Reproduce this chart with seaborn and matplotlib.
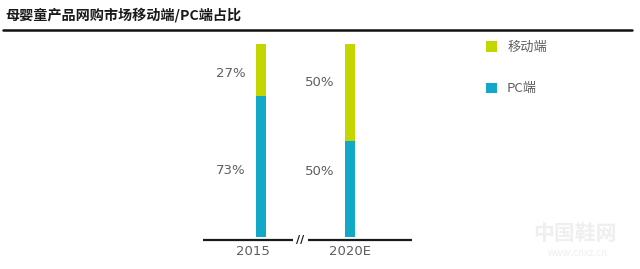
import matplotlib
matplotlib.use("Agg")
import matplotlib.pyplot as plt
import seaborn as sns
import pandas as pd
from matplotlib.patches import Patch

# ---- data ----
years = ["2015", "2020E"]
mobile_share = [27, 50]
pc_share = [73, 50]
series_names = ["移动端", "PC端"]
title = "母婴童产品网购市场移动端/PC端占比"

GREEN = "#c4d600"
BLUE = "#12a8c8"
GRAY = "#5e5e5e"
NUMFONT = ["Liberation Sans Narrow", "DejaVu Sans"]

sns.set_theme(style="white")
plt.rcParams["font.family"] = ["Noto Sans CJK SC", "DejaVu Sans"]

W, H = 640, 269
fig = plt.figure(figsize=(W / 100, H / 100), dpi=100)

def px_rect(x0, y_top, x1, y_bot):
    return [x0 / W, 1 - y_bot / H, (x1 - x0) / W, (y_bot - y_top) / H]

ax = fig.add_axes(px_rect(203, 44, 412, 240))

df = pd.DataFrame({
    "year": years,
    "total": [m + p for m, p in zip(mobile_share, pc_share)],
    "pc": pc_share,
})

bw = 10 / 89
sns.barplot(data=df, x="year", y="total", color=GREEN, width=bw, ax=ax,
            saturation=1, linewidth=0)
sns.barplot(data=df, x="year", y="pc", color=BLUE, width=bw, ax=ax,
            saturation=1, linewidth=0)

ax.set_xlim(-0.652, 1.697)
ax.set_ylim(-1.55, 100)
ax.set_xlabel("")
ax.set_ylabel("")
ax.set_yticks([])
ax.set_xticks([])
for s in ax.spines.values():
    s.set_visible(False)

# broken baseline
ax.plot([0, 0.431], [0, 0], transform=ax.transAxes, color="#1a1a1a", lw=1.6,
        clip_on=False, solid_capstyle="butt")
ax.plot([0.502, 1.0], [0, 0], transform=ax.transAxes, color="#1a1a1a", lw=1.6,
        clip_on=False, solid_capstyle="butt")
ax.text(0.466, 0.0, "//", transform=ax.transAxes, ha="center", va="center",
        fontsize=8, color="#1a1a1a", family="DejaVu Sans", fontweight="bold")

# category labels
label_shift = [-8 / 89, 0]
for i, y in enumerate(years):
    ax.text(i + label_shift[i], -7.7, y, ha="center", va="center",
            family=NUMFONT, fontsize=9.5, color=GRAY, clip_on=False)

# value labels (layout positions for text, in data units)
label_dx = -30 / 89
mobile_label_y = [84.5, 79.8]
pc_label_y = [34.7, 33.7]
for i in range(len(years)):
    ax.text(i + label_dx, mobile_label_y[i], f"{mobile_share[i]}%", ha="center",
            va="center", family=NUMFONT, fontsize=9.5, color=GRAY)
    ax.text(i + label_dx, pc_label_y[i], f"{pc_share[i]}%", ha="center",
            va="center", family=NUMFONT, fontsize=9.5, color=GRAY)

# title and rule
fig.text(5 / W, 1 - 15 / H, title, ha="left", va="center", fontsize=10.2,
         fontweight="bold", color="#1a1a1a")
fig.add_artist(plt.Line2D([3 / W, 632 / W], [1 - 30 / H, 1 - 30 / H],
                          color="#111111", lw=1.8))

# legend
handles = [Patch(facecolor=GREEN, edgecolor="none"),
           Patch(facecolor=BLUE, edgecolor="none")]
fig.legend(handles, series_names, loc="upper left",
           bbox_to_anchor=(486 / W, 1 - 41 / H), frameon=False,
           fontsize=9.5, labelcolor=GRAY, handlelength=0.85, handleheight=0.85,
           handletextpad=0.75, labelspacing=2.15, borderpad=0, borderaxespad=0)

# faint watermark
fig.text(575 / W, 1 - 233 / H, "中国鞋网", ha="center", va="center",
         fontsize=15, fontweight="bold", color="#efefef")
fig.text(578 / W, 1 - 253 / H, "www.cnxz.cn", ha="center", va="center",
         fontsize=7, color="#efefef")

fig.savefig("out.png", dpi=100)
